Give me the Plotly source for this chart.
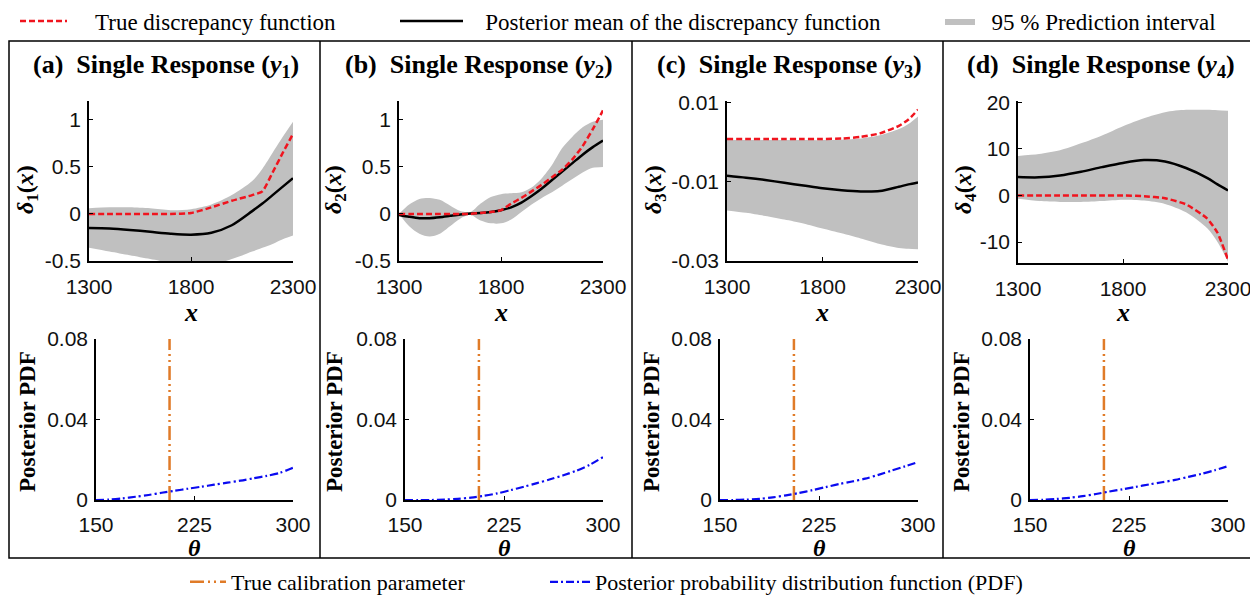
import plotly.graph_objects as go

W, H = 1258, 601
OFF = 8  # page body margin that the browser adds around the figure
def px(x): return (x - OFF) / W
def py(y): return 1 - (y - OFF) / H

SERIF = "Liberation Serif"
SANS = "Liberation Sans"

# ---------------- data ----------------
x_a = [1300, 1400, 1500, 1600, 1700, 1800, 1900, 2000, 2100, 2150, 2200, 2250, 2300]
true_a = [0, 0, 0, 0, 0, 0.01, 0.07, 0.14, 0.2, 0.24, 0.44, 0.65, 0.85]
mean_a = [-0.15, -0.155, -0.17, -0.19, -0.21, -0.22, -0.2, -0.12, 0.03, 0.11, 0.2, 0.29, 0.38]
upper_a = [0.06, 0.07, 0.07, 0.06, 0.04, 0.05, 0.1, 0.2, 0.35, 0.48, 0.65, 0.82, 0.98]
lower_a = [-0.36, -0.4, -0.44, -0.48, -0.52, -0.55, -0.54, -0.48, -0.4, -0.36, -0.32, -0.27, -0.23]

x_b = [1300, 1350, 1400, 1450, 1500, 1550, 1600, 1650, 1700, 1750, 1800,
       1850, 1900, 1950, 2000, 2050, 2100, 2150, 2200, 2250, 2300]
true_b = [0, 0, 0, 0, 0, 0, 0, 0, 0.01, 0.02, 0.04, 0.11, 0.17, 0.24, 0.31,
          0.39, 0.47, 0.58, 0.72, 0.9, 1.1]
mean_b = [-0.01, -0.03, -0.045, -0.045, -0.035, -0.02, -0.005, 0.005, 0.01, 0.02,
          0.04, 0.07, 0.12, 0.19, 0.27, 0.36, 0.45, 0.54, 0.63, 0.71, 0.78]
upper_b = [0.0, 0.1, 0.16, 0.17, 0.15, 0.09, 0.03, 0.02, 0.11, 0.18, 0.21,
           0.22, 0.23, 0.28, 0.38, 0.52, 0.7, 0.82, 0.92, 0.98, 1.0]
lower_b = [0.0, -0.13, -0.21, -0.24, -0.21, -0.13, -0.05, -0.01, -0.07, -0.1,
           -0.1, -0.06, 0.02, 0.1, 0.17, 0.23, 0.3, 0.37, 0.44, 0.49, 0.5]

x_c = [1300, 1400, 1500, 1600, 1700, 1800, 1900, 2000, 2100, 2200, 2250, 2300]
true_c = [0.0009, 0.0009, 0.0009, 0.0009, 0.0009, 0.0009, 0.001, 0.0014, 0.0023,
          0.0042, 0.0058, 0.0083]
mean_c = [-0.0084, -0.0089, -0.0095, -0.0102, -0.0109, -0.0116, -0.0121, -0.0124,
          -0.0123, -0.0112, -0.0106, -0.0101]
upper_c = [0.0006, 0.0006, 0.0006, 0.0006, 0.0006, 0.0006, 0.0007, 0.001, 0.0018,
           0.0034, 0.0047, 0.0066]
lower_c = [-0.0172, -0.0178, -0.0186, -0.0195, -0.0205, -0.0218, -0.023, -0.0243,
           -0.0257, -0.0267, -0.0269, -0.027]

x_d = [1300, 1400, 1500, 1600, 1700, 1800, 1900, 2000, 2100, 2200, 2250, 2300]
true_d = [0, 0, 0, 0, 0, 0, -0.15, -0.6, -1.9, -4.9, -8.0, -13.8]
mean_d = [3.96, 3.9, 4.3, 5.1, 6.1, 7.0, 7.6, 7.3, 5.9, 3.8, 2.4, 1.1]
upper_d = [8.5, 8.9, 9.7, 11.2, 12.9, 14.9, 16.6, 17.9, 18.4, 18.4, 18.3, 18.2]
lower_d = [-0.7, -1.2, -1.4, -1.4, -1.2, -0.9, -1.1, -1.8, -3.6, -7.0, -10.0, -14.2]

theta = [150, 160, 170, 180, 190, 200, 210, 220, 230, 240, 250, 260, 270, 280, 290, 300]
pdf_a = [0, 0.0002, 0.0008, 0.0016, 0.0025, 0.0036, 0.0046, 0.0056, 0.0066, 0.0076,
         0.0086, 0.0096, 0.0108, 0.012, 0.0135, 0.016]
pdf_b = [0, 0, 0, 0.0002, 0.0006, 0.0012, 0.0021, 0.0033, 0.0049, 0.0066, 0.0084,
         0.0103, 0.0123, 0.0146, 0.0175, 0.0213]
pdf_c = [0, 0, 0.0002, 0.0006, 0.0013, 0.0023, 0.0035, 0.0049, 0.0064, 0.0079,
         0.0092, 0.0106, 0.0125, 0.0146, 0.0167, 0.0188]
pdf_d = [0, 0.0001, 0.0005, 0.0011, 0.0019, 0.003, 0.0042, 0.0053, 0.0065, 0.0077,
         0.0088, 0.01, 0.0115, 0.013, 0.0148, 0.0168]
true_theta = 206

panel_titles = ["(a)", "(b)", "(c)", "(d)"]
x_ticks = [1300, 1800, 2300]
theta_ticks = [150, 225, 300]
pdf_ticks = [0, 0.04, 0.08]
pdf_ticktext = ["0", "0.04", "0.08"]
y_ticks = [[-0.5, 0, 0.5, 1], [-0.5, 0, 0.5, 1], [0.01, -0.01, -0.03], [20, 10, 0, -10]]
y_ticktext = [["-0.5", "0", "0.5", "1"], ["-0.5", "0", "0.5", "1"],
              ["0.01", "-0.01", "-0.03"], ["20", "10", "0", "-10"]]
y_ranges = [[-0.5, 1.2], [-0.5, 1.2], [-0.03, 0.0105], [-14.5, 20.3]]

xs = [x_a, x_b, x_c, x_d]
trues = [true_a, true_b, true_c, true_d]
means = [mean_a, mean_b, mean_c, mean_d]
uppers = [upper_a, upper_b, upper_c, upper_d]
lowers = [lower_a, lower_b, lower_c, lower_d]
pdfs = [pdf_a, pdf_b, pdf_c, pdf_d]

# ---------------- layout geometry (pixels on the page) ----------------
top_x_dom = [(89, 293), (399, 603), (727, 918), (1018, 1228)]
top_y_dom = [(101, 261), (101, 261), (101, 261), (101, 263)]
bot_x_dom = [(96, 293), (405, 603), (720, 918), (1030, 1228)]
bot_y_dom = (339, 500)
title_cx = [166, 479, 789, 1101]
delta_cx = [27, 335, 655, 965]
pdfl_cx = [27, 334, 651, 961]

RED = "#F0141E"
GRAY = "rgb(192,192,192)"
ORANGE = "#E07B28"
BLUE = "#0A0AF0"
NB = "\u00a0"

fig = go.Figure()
layout = dict(
    width=W, height=H, autosize=False,
    margin=dict(l=0, r=0, t=0, b=0, pad=0, autoexpand=False),
    paper_bgcolor="white", plot_bgcolor="white",
    showlegend=True,
)

tickfont = dict(family=SANS, size=21, color="#111")
annotations = []

for i in range(4):
    xa = f"x{i+1}"; ya = f"y{i+1}"
    xb = f"x{i+5}"; yb = f"y{i+5}"
    first = (i == 0)
    # band
    fig.add_trace(go.Scatter(x=xs[i], y=uppers[i], xaxis=xa, yaxis=ya, mode="lines",
                             line=dict(width=0, shape="spline", smoothing=0.8),
                             showlegend=False, hoverinfo="skip"))
    fig.add_trace(go.Scatter(x=xs[i], y=lowers[i], xaxis=xa, yaxis=ya, mode="lines",
                             line=dict(width=0, shape="spline", smoothing=0.8),
                             fill="tonexty", fillcolor=GRAY,
                             name=NB * 2 + "95 % Prediction interval", legend="legend3",
                             showlegend=first))
    fig.add_trace(go.Scatter(x=xs[i], y=means[i], xaxis=xa, yaxis=ya, mode="lines",
                             line=dict(color="black", width=2.5, shape="spline", smoothing=0.8),
                             name=NB * 3 + "Posterior mean of the discrepancy function",
                             legend="legend2", showlegend=first))
    fig.add_trace(go.Scatter(x=xs[i], y=trues[i], xaxis=xa, yaxis=ya, mode="lines",
                             line=dict(color=RED, width=2.5, dash="6px,3px",
                                       shape="spline", smoothing=0.5),
                             name=NB * 4 + "True discrepancy function", legend="legend",
                             showlegend=first))
    # bottom
    fig.add_trace(go.Scatter(x=[true_theta, true_theta], y=pdf_ticks[::2], xaxis=xb, yaxis=yb,
                             mode="lines",
                             line=dict(color=ORANGE, width=2.5, dash="14px,4px,2px,4px,2px,4px"),
                             name="True calibration parameter", legend="legend4",
                             showlegend=first))
    fig.add_trace(go.Scatter(x=theta, y=pdfs[i], xaxis=xb, yaxis=yb, mode="lines",
                             line=dict(color=BLUE, width=2.2, dash="8px,3px,2px,3px",
                                       shape="spline", smoothing=0.8),
                             name="Posterior probability distribution function (PDF)",
                             legend="legend5", showlegend=first))

    tx0, tx1 = top_x_dom[i]; ty0, ty1 = top_y_dom[i]
    bx0, bx1 = bot_x_dom[i]; by0, by1 = bot_y_dom
    sfx = "" if i == 0 else str(i + 1)
    common = dict(showline=True, linecolor="black", linewidth=1.5, showgrid=False,
                  zeroline=False, ticks="inside", ticklen=4, tickwidth=1.2,
                  tickcolor="black", tickfont=tickfont, fixedrange=True)
    layout[f"xaxis{sfx}"] = dict(domain=[px(tx0), px(tx1)], range=[1300, 2300],
                                 tickvals=x_ticks, ticktext=[str(v) for v in x_ticks],
                                 anchor=f"y{i+1}", ticklabelstandoff=6, **common)
    layout[f"yaxis{sfx}"] = dict(domain=[py(ty1), py(ty0)], range=y_ranges[i],
                                 tickvals=y_ticks[i], ticktext=y_ticktext[i],
                                 anchor=f"x{i+1}", ticklabelstandoff=2, **common)
    layout[f"xaxis{i+5}"] = dict(domain=[px(bx0), px(bx1)], range=[150, 300],
                                 tickvals=theta_ticks, ticktext=[str(v) for v in theta_ticks],
                                 anchor=f"y{i+5}", ticklabelstandoff=5, **common)
    layout[f"yaxis{i+5}"] = dict(domain=[py(by1), py(by0)], range=[0, 0.08],
                                 tickvals=pdf_ticks, ticktext=pdf_ticktext,
                                 anchor=f"x{i+5}", ticklabelstandoff=2, **common)

    annotations.append(dict(
        text=f"<b>{panel_titles[i]}{NB}{NB}Single Response (<i>y</i><sub>{i+1}</sub>)</b>",
        x=px(title_cx[i]), y=py(66), xref="paper", yref="paper", showarrow=False,
        xanchor="center", yanchor="middle", font=dict(family=SERIF, size=26, color="black")))
    annotations.append(dict(
        text=f"<b><i>δ</i><sub>{i+1}</sub>(<i>x</i>)</b>",
        x=px(delta_cx[i]), y=py(190), xref="paper", yref="paper", showarrow=False,
        textangle=-90, xanchor="center", yanchor="middle",
        font=dict(family=SERIF, size=24, color="black")))
    annotations.append(dict(
        text="<b><i>x</i></b>", x=px((tx0 + tx1) / 2), y=py(312), xref="paper", yref="paper",
        showarrow=False, xanchor="center", yanchor="middle",
        font=dict(family=SERIF, size=26, color="black")))
    annotations.append(dict(
        text="<b>Posterior PDF</b>", x=px(pdfl_cx[i]), y=py(422), xref="paper", yref="paper",
        showarrow=False, textangle=-90, xanchor="center", yanchor="middle",
        font=dict(family=SERIF, size=23, color="black")))
    annotations.append(dict(
        text="<b><i>θ</i></b>", x=px((bx0 + bx1) / 2), y=py(548), xref="paper", yref="paper",
        showarrow=False, xanchor="center", yanchor="middle",
        font=dict(family=SERIF, size=24, color="black")))

layout["annotations"] = annotations

def leg(xp, yp, w, fs):
    return dict(x=px(xp), y=py(yp), xanchor="left", yanchor="middle", xref="paper",
                yref="paper", orientation="h", bgcolor="rgba(0,0,0,0)", borderwidth=0,
                itemwidth=w, font=dict(family=SERIF, size=fs, color="black"),
                itemclick=False, itemdoubleclick=False)
layout["legend"] = leg(15, 21, 47, 23)
layout["legend2"] = leg(395, 21, 63, 23)
layout["legend3"] = leg(940, 21, 30, 23)
layout["legend4"] = leg(185, 582, 36, 22)
layout["legend5"] = leg(545, 582, 40, 22)

# frame and dividers
shapes = [dict(type="rect", xref="paper", yref="paper", x0=px(9), x1=px(1253),
               y0=py(558), y1=py(41), line=dict(color="black", width=1.5))]
for xv in (320, 632, 943):
    shapes.append(dict(type="line", xref="paper", yref="paper", x0=px(xv), x1=px(xv),
                       y0=py(558), y1=py(41), line=dict(color="black", width=1.5)))
layout["shapes"] = shapes

fig.update_layout(**layout)
fig.write_html("out.html")
